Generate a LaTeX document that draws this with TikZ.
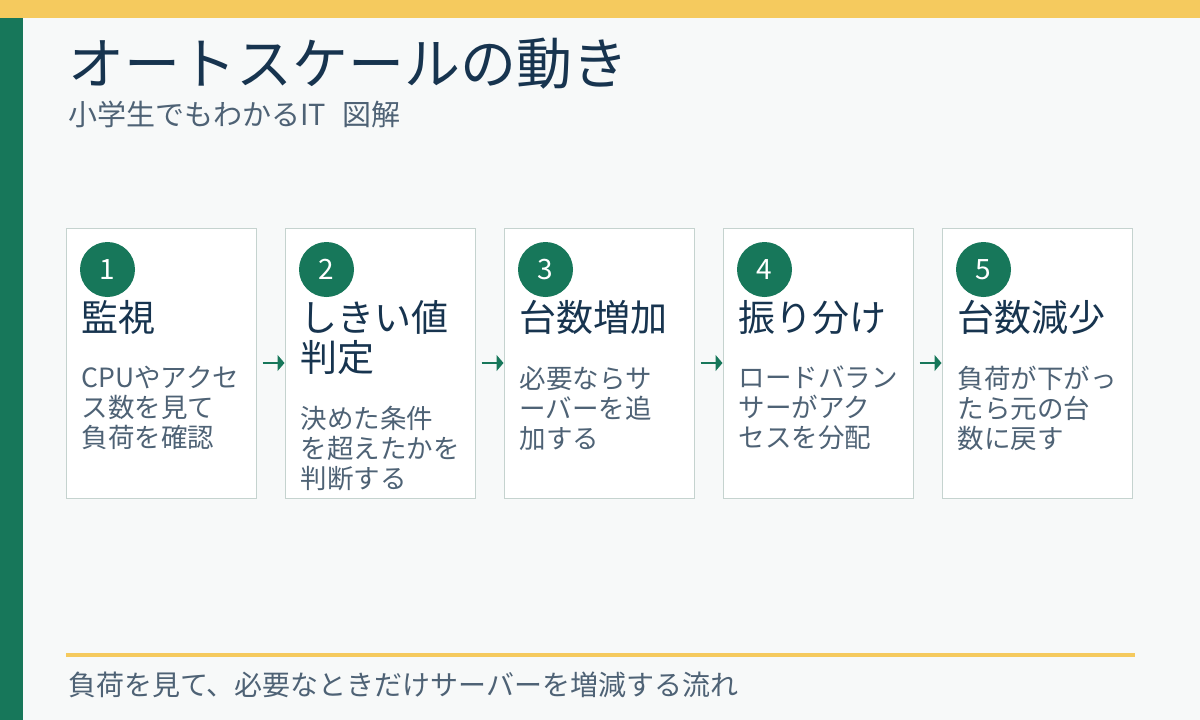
\documentclass[tikz,border=0pt]{standalone}
\usepackage{fontspec}
\setmainfont{Noto Sans CJK JP}
\usepackage{tikz}
\usetikzlibrary{positioning,arrows.meta}

\definecolor{bgcol}{HTML}{F7F9F9}
\definecolor{barYellow}{HTML}{F5CA5E}
\definecolor{barGreen}{HTML}{17775A}
\definecolor{navy}{HTML}{17344F}
\definecolor{grayText}{HTML}{4E6275}
\definecolor{boxBorder}{HTML}{C5D3CF}

\tikzset{
    stepbox/.style={draw=boxBorder, line width=1pt, fill=white, minimum width=190pt, minimum height=270pt, inner sep=0pt},
    numdot/.style={circle, fill=barGreen, text=white, minimum size=55pt, inner sep=0pt, font=\fontsize{28}{28}\selectfont},
    headtext/.style={anchor=north west, inner sep=0pt, align=left, text=navy, font=\fontsize{37}{40}\selectfont},
    bodytext/.style={inner sep=0pt, align=left, text=grayText, font=\fontsize{26.5}{30}\selectfont},
    flowarrow/.style={-{Triangle[length=7pt,width=16pt]}, draw=barGreen, line width=1.5pt, shorten <=6pt}
}

\begin{document}
\begin{tikzpicture}[x=1pt, y=-1pt]
    \useasboundingbox (0,0) rectangle (1200,720);
    \fill[bgcol] (0,0) rectangle (1200,720);

    % frame bars
    \fill[barYellow] (0,0) rectangle (1200,18);
    \fill[barGreen] (0,18) rectangle (23,720);

    % title
    \node[anchor=base west, inner sep=0pt, text=navy, font=\fontsize{56}{60}\selectfont] (title) at (68,84) {オートスケールの動き};
    \node[anchor=base west, inner sep=0pt, text=grayText, font=\fontsize{29}{30}\selectfont] (subtitle) at (68,125) {小学生でもわかるIT\hspace{16pt}図解};

    % steps
    \foreach \i/\head/\body in {
        1/{監視}/{CPUやアクセ\\ス数を見て\\負荷を確認},
        2/{しきい値\\判定}/{決めた条件\\を超えたかを\\判断する},
        3/{台数増加}/{必要ならサ\\ーバーを追\\加する},
        4/{振り分け}/{ロードバラン\\サーがアク\\セスを分配},
        5/{台数減少}/{負荷が下がっ\\たら元の台\\数に戻す}} {
        \node[stepbox] (box\i) at ({161+219*(\i-1)},363) {};
        \node[numdot] (num\i) at ([xshift=42pt, yshift=-42pt]box\i.north west) {\i};
        \node[headtext] (head\i) at ([xshift=16pt, yshift=-73pt]box\i.north west) {\head};
        \node[bodytext, below=31pt of head\i.south west, anchor=north west] (body\i) {\body};
    }

    % arrows
    \foreach \i/\j in {1/2, 2/3, 3/4, 4/5}
        \draw[flowarrow] (box\i.east) -- (box\j.west);

    % footer
    \draw[barYellow, line width=4pt] (66,655) -- (1135,655);
    \node[anchor=base west, inner sep=0pt, text=grayText, font=\fontsize{28}{30}\selectfont] (footer) at (68,695) {負荷を見て、必要なときだけサーバーを増減する流れ};
\end{tikzpicture}
\end{document}
